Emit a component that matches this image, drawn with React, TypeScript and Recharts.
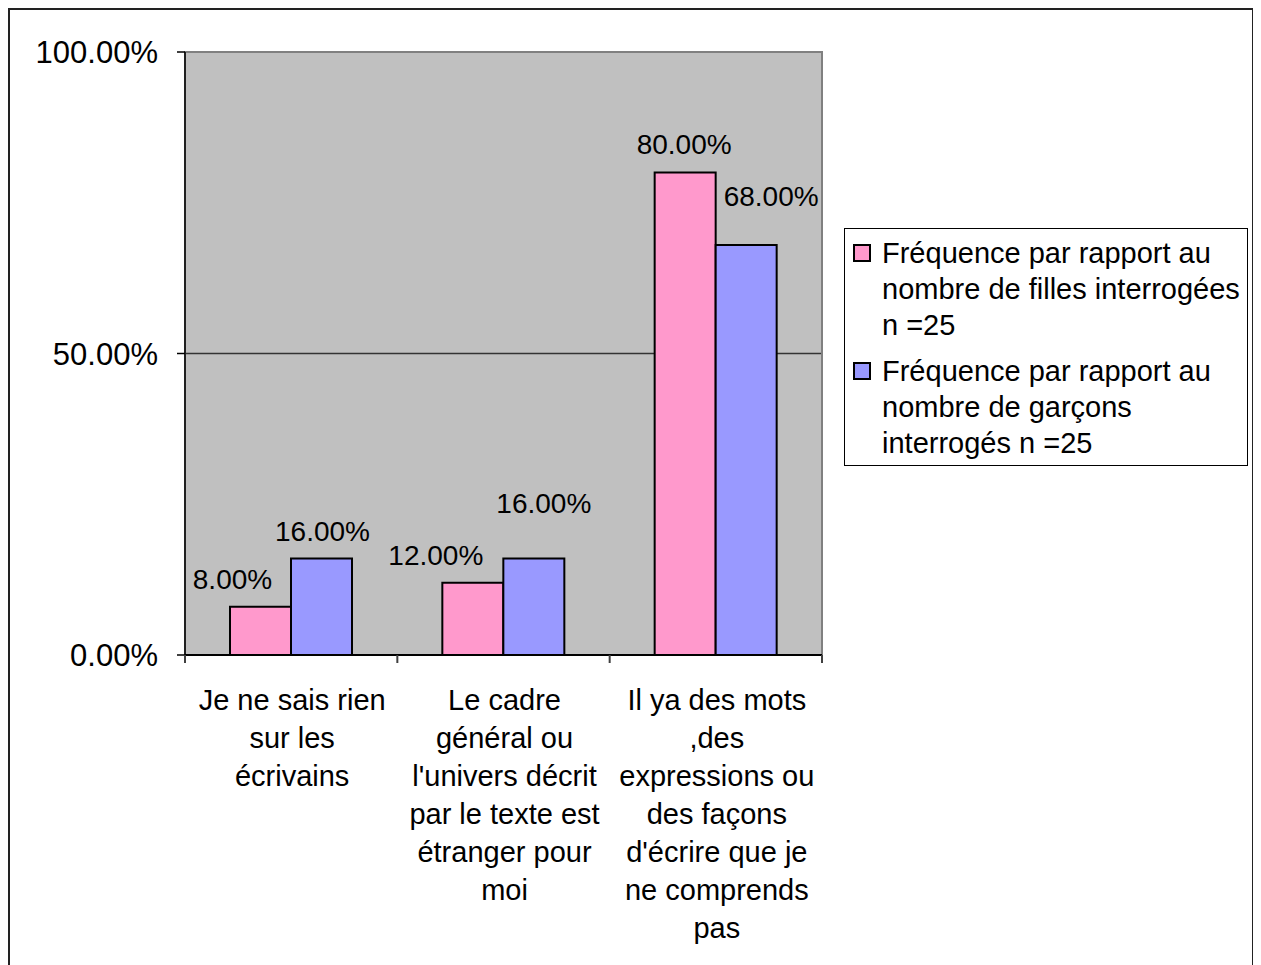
import React from 'react';
import {
  BarChart,
  Bar,
  XAxis,
  YAxis,
  CartesianGrid,
  Legend,
  LabelList,
  ReferenceArea,
} from 'recharts';

// ---- data ----
const CATEGORIES = [
  'Je ne sais rien sur les écrivains',
  "Le cadre général ou l'univers décrit par le texte est étranger pour moi",
  "Il ya des mots ,des expressions ou des façons d'écrire que je ne comprends pas",
];
const GIRLS = [0.08, 0.12, 0.8];
const BOYS = [0.16, 0.16, 0.68];
const GIRLS_NAME = 'Fréquence par rapport au nombre de filles interrogées n =25';
const BOYS_NAME = 'Fréquence par rapport au nombre de garçons interrogés n =25';
const Y_TICKS = [0, 0.5, 1];

// ---- layout ----
const FONT = '"Liberation Sans", Arial, sans-serif';
const CHART_W = 1242;
const CHART_H = 955;
const MARGIN = { top: 42, right: 4, bottom: 10, left: 15 };
const Y_AXIS_W = 160;
const X_AXIS_H = 300;
const LEGEND_W = 426;
const PLOT_W = CHART_W - MARGIN.left - MARGIN.right - Y_AXIS_W - LEGEND_W;
const BAND = PLOT_W / CATEGORIES.length;
const CAT_FONT_SIZE = 29;
const CAT_WRAP_W = 200;
const CAT_LINE_H = 38;

// label nudges (dx, dy) relative to the top-centre of each bar
const GIRLS_LABEL_NUDGE: [number, number][] = [[-28, -27], [-37, -27], [-1, -28]];
const BOYS_LABEL_NUDGE: [number, number][] = [[1, -27], [10, -55], [25, -48]];

const rows = CATEGORIES.map((name, i) => ({ name, girls: GIRLS[i], boys: BOYS[i] }));

const pct = (v: number) => `${(v * 100).toFixed(2)}%`;

// greedy word wrap measured with a canvas context
let measureCtx: CanvasRenderingContext2D | null = null;
function wrapWords(text: string, maxWidth: number, fontSize: number): string[] {
  if (!measureCtx && typeof document !== 'undefined') {
    measureCtx = document.createElement('canvas').getContext('2d');
  }
  const ctx = measureCtx;
  const measure = (s: string) => {
    if (!ctx) return s.length * fontSize * 0.5;
    ctx.font = `${fontSize}px ${FONT}`;
    return ctx.measureText(s).width;
  };
  const words = text.split(' ');
  const lines: string[] = [];
  let cur = '';
  words.forEach((w) => {
    const trial = cur ? `${cur} ${w}` : w;
    if (cur && measure(trial) > maxWidth) {
      lines.push(cur);
      cur = w;
    } else {
      cur = trial;
    }
  });
  if (cur) lines.push(cur);
  return lines;
}

const makeLabel = (nudge: [number, number][]) => (props: any) => {
  const { x, y, width, value, index } = props;
  const [dx, dy] = nudge[index] || [0, -27];
  return (
    <text
      x={Number(x) + Number(width) / 2 + dx}
      y={Number(y) + dy}
      textAnchor="middle"
      dominantBaseline="central"
      fontSize={28}
      fontFamily={FONT}
      fill="#000"
    >
      {pct(Number(value))}
    </text>
  );
};

const CategoryTick = (props: any) => {
  const { x, y, payload, index } = props;
  const half = BAND / 2;
  const lines = wrapWords(String(payload.value), CAT_WRAP_W, CAT_FONT_SIZE);
  return (
    <g>
      <line x1={x - half} x2={x - half} y1={y} y2={y + 8} stroke="#404040" strokeWidth={2} />
      {index === CATEGORIES.length - 1 && (
        <line x1={x + half} x2={x + half} y1={y} y2={y + 8} stroke="#404040" strokeWidth={2} />
      )}
      <text
        x={x + 1}
        y={y + 55}
        textAnchor="middle"
        fontSize={CAT_FONT_SIZE}
        fontFamily={FONT}
        fill="#000"
      >
        {lines.map((ln, i) => (
          <tspan key={i} x={x + 1} dy={i === 0 ? 0 : CAT_LINE_H}>
            {ln}
          </tspan>
        ))}
      </text>
    </g>
  );
};

const LegendBox = (props: any) => {
  const items = props.payload || [];
  return (
    <div
      style={{
        marginLeft: LEGEND_W - 404,
        width: 404,
        boxSizing: 'border-box',
        border: '1px solid #000',
        background: '#fff',
        padding: '6px 0 4px 8px',
        fontFamily: FONT,
        fontSize: 29,
        lineHeight: '36px',
        color: '#000',
      }}
    >
      {items.map((it: any, i: number) => (
        <div key={i} style={{ display: 'flex', alignItems: 'flex-start', marginTop: i === 0 ? 0 : 10 }}>
          <span
            style={{
              display: 'inline-block',
              width: 18,
              height: 18,
              boxSizing: 'border-box',
              border: '2px solid #000',
              background: it.color,
              marginTop: 9,
              marginRight: 11,
              flex: '0 0 auto',
            }}
          />
          <span style={{ width: 362 }}>{it.value}</span>
        </div>
      ))}
    </div>
  );
};

export default function App() {
  return (
    <>
      <style>{'html,body{overflow:hidden}'}</style>
      <div
        style={{
          width: CHART_W,
          height: CHART_H,
          borderTop: '2px solid #222',
          borderLeft: '2px solid #222',
          borderRight: '2px solid #222',
          background: '#fff',
          fontFamily: FONT,
        }}
      >
        <BarChart
          width={CHART_W}
          height={CHART_H}
          data={rows}
          margin={MARGIN}
          barSize={61}
          barGap={0}
        >
          <CartesianGrid vertical={false} fill="#C0C0C0" stroke="#333" strokeWidth={1.5} />
          <ReferenceArea y1={0} y2={1} fill="none" stroke="#808080" strokeWidth={2} ifOverflow="visible" />
          <XAxis
            dataKey="name"
            interval={0}
            height={X_AXIS_H}
            tickSize={0}
            tickMargin={0}
            tickLine={false}
            axisLine={{ stroke: '#000', strokeWidth: 2 }}
            tick={<CategoryTick />}
          />
          <YAxis
            domain={[0, 1]}
            ticks={Y_TICKS}
            interval={0}
            width={Y_AXIS_W}
            tickSize={8}
            tickMargin={19}
            tickFormatter={pct}
            axisLine={{ stroke: '#000', strokeWidth: 1.5 }}
            tickLine={{ stroke: '#000', strokeWidth: 1.5 }}
            tick={{ fill: '#000', fontSize: 31, fontFamily: FONT }}
          />
          <Bar dataKey="girls" name={GIRLS_NAME} fill="#FF99CC" stroke="#000" strokeWidth={2} isAnimationActive={false}>
            <LabelList dataKey="girls" content={makeLabel(GIRLS_LABEL_NUDGE)} />
          </Bar>
          <Bar dataKey="boys" name={BOYS_NAME} fill="#9999FF" stroke="#000" strokeWidth={2} isAnimationActive={false}>
            <LabelList dataKey="boys" content={makeLabel(BOYS_LABEL_NUDGE)} />
          </Bar>
          <Legend
            layout="vertical"
            align="right"
            verticalAlign="top"
            width={LEGEND_W}
            wrapperStyle={{ top: 218, width: LEGEND_W }}
            content={<LegendBox />}
          />
        </BarChart>
      </div>
    </>
  );
}
